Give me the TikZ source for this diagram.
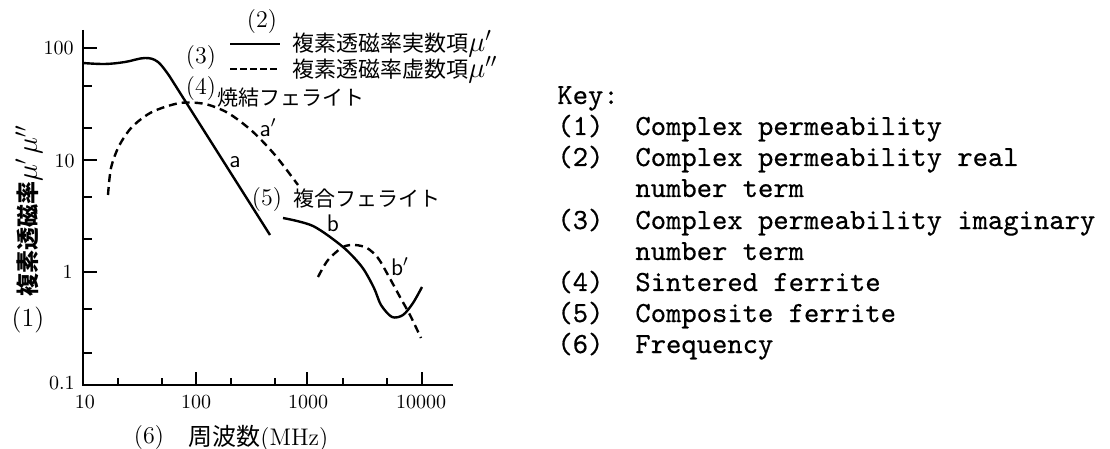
\documentclass[tikz,border=0pt]{standalone}
\usepackage{fontspec}
\newfontfamily\jp{Noto Sans CJK JP}
\newfontfamily\keyfont[FakeBold=0.5]{lmmono10-regular.otf}
\newcommand{\bigmu}[1]{{\fontsize{14pt}{14pt}\selectfont$\mu#1$}}
\begin{document}
\begin{tikzpicture}[x=0.5pt,y=-0.5pt,
  axisline/.style={line width=1.3pt},
  curve/.style={line width=1.2pt},
  dcurve/.style={line width=1.2pt, dash pattern=on 4pt off 2.5pt},
  tickm/.style={line width=1.1pt},
  num/.style={font=\fontsize{10pt}{12pt}\selectfont, inner sep=0pt},
  lab/.style={font=\fontsize{12pt}{14pt}\selectfont, inner sep=0pt},
  clab/.style={font=\fontsize{12pt}{14pt}\selectfont\sffamily, inner sep=0pt},
  jtxt/.style={font=\fontsize{10.5pt}{13pt}\selectfont\jp, inner sep=0pt, anchor=west},
  keyt/.style={font=\fontsize{14.6pt}{16pt}\selectfont\keyfont, inner sep=0pt, anchor=base west}
]
\useasboundingbox (0,0) rectangle (1110,449);
% axes
\coordinate (O) at (83,385);
\coordinate (Ytop) at (83,30);
\coordinate (Xend) at (453,385);
\draw[axisline] (Ytop) -- (O) -- (Xend);
% y ticks
\foreach \y in {48,160,272} \draw[tickm] (83,\y) -- (97,\y);
\foreach \y in {86,128,197,239,309,353} \draw[tickm] (83,\y) -- (92,\y);
% x ticks
\foreach \x in {196,307,422} \draw[tickm] (\x,385) -- (\x,372);
\foreach \x in {118,162,231,275,343,387} \draw[tickm] (\x,385) -- (\x,378);
% tick labels
\node[num,anchor=east] (y100) at (74,48) {100};
\node[num,anchor=east] (y10) at (75,161) {10};
\node[num,anchor=east] (y1) at (73,272) {1};
\node[num,anchor=east] (y01) at (75,383) {0.1};
\node[num] (x10) at (85,402) {10};
\node[num] (x100) at (196,402) {100};
\node[num] (x1000) at (308,402) {1000};
\node[num] (x10000) at (421,402) {10000};
% curves
\draw[curve] plot[smooth,tension=0.6] coordinates {(83,63) (105,64) (125,62) (145,58) (158,62) (170,77)} -- (270,235);
\draw[dcurve] plot[smooth] coordinates {(108,195) (111,168) (119,146) (132,127) (152,112) (180,103) (205,104) (228,113) (252,131) (275,155) (298,185)};
\draw[curve] plot[smooth] coordinates {(283,218) (313,226) (343,247) (362,267) (374,288) (381,305) (392,317) (403,315) (413,303) (422,287)};
\draw[dcurve] plot[smooth] coordinates {(318,277) (328,260) (343,247) (355,245) (367,248) (378,258) (388,275) (400,297) (410,315) (421,338)};
% curve labels
\node[clab] (la) at (235,162) {a};
\node[clab] (lap) at (268,128) {a$'$};
\node[clab] (lb) at (333,223) {b};
\node[clab] (lbp) at (400,267) {b$'$};
% legend
\node[lab] (n2) at (262,22) {(2)};
\coordinate (l1a) at (230,44);
\coordinate (l1b) at (280,44);
\draw[curve] (l1a) -- (l1b);
\node[jtxt,font=\fontsize{11pt}{13pt}\selectfont\jp] (t2) at (292,44) {複素透磁率実数項\bigmu{'}};
\node[lab] (n3) at (201,58) {(3)};
\coordinate (l2a) at (230,69);
\coordinate (l2b) at (280,69);
\draw[line width=1.2pt, dash pattern=on 3.5pt off 1.5pt] (l2a) -- (l2b);
\node[jtxt,font=\fontsize{11pt}{13pt}\selectfont\jp] (t3) at (292,70) {複素透磁率虚数項\bigmu{''}};
% material labels
\node[lab] (n4) at (201,89) {(4)};
\node[jtxt] (t4) at (217,98) {焼結フェライト};
\node[lab] (n5) at (267,200) {(5)};
\node[jtxt] (t5) at (293,199) {複合フェライト};
% axis labels
\node[rotate=90,inner sep=0pt,font=\fontsize{11.5pt}{13pt}\selectfont\jp\bfseries] (ylab) at (29,211) {複素透磁率\bigmu{'}\,\bigmu{''}};
\node[lab,font=\fontsize{13pt}{15pt}\selectfont] (n1) at (28,320) {(1)};
\node[lab] (n6) at (149,438) {(6)};
\node[lab,anchor=west,font=\fontsize{12pt}{14pt}\selectfont] (t6) at (188,438) {{\jp 周波数}(MHz)};
% key
\node[keyt] (k0) at (557,104) {Key:};
\node[keyt] (k1n) at (557,135) {(1)};
\node[keyt] (k1) at (635,135) {Complex permeability};
\node[keyt] (k2n) at (557,166) {(2)};
\node[keyt] (k2) at (635,166) {Complex permeability real};
\node[keyt] (k2b) at (635,197) {number term};
\node[keyt] (k3n) at (557,229) {(3)};
\node[keyt] (k3) at (635,229) {Complex permeability imaginary};
\node[keyt] (k3b) at (635,260) {number term};
\node[keyt] (k4n) at (557,291) {(4)};
\node[keyt] (k4) at (635,291) {Sintered ferrite};
\node[keyt] (k5n) at (557,322) {(5)};
\node[keyt] (k5) at (635,322) {Composite ferrite};
\node[keyt] (k6n) at (557,353) {(6)};
\node[keyt] (k6) at (635,353) {Frequency};
\end{tikzpicture}
\end{document}
